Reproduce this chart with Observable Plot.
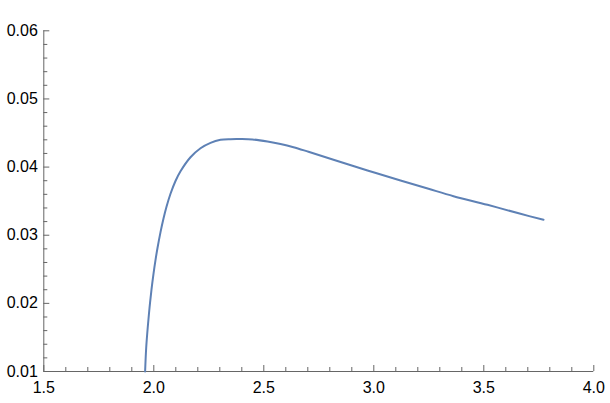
<!DOCTYPE html>
<html>
<head>
<meta charset="utf-8">
<script src="https://cdn.jsdelivr.net/npm/d3@7"></script>
<script src="https://cdn.jsdelivr.net/npm/@observablehq/plot@0.6"></script>
<style>
  html, body { margin: 0; padding: 0; background: #fff; }
  #chart { width: 610px; height: 403px; }
</style>
</head>
<body>
<div id="chart"></div>
<script>
// Curve samples
const xs = [1.9605, 1.9655, 1.9727, 1.9805, 1.9895, 1.9986, 2.0077, 2.0168, 2.0305, 2.0441, 2.0577, 2.0759, 2.0986, 2.1214, 2.1668, 2.2123, 2.2577, 2.3032, 2.3486, 2.3941, 2.4486, 2.5168, 2.5759, 2.6350, 2.7032, 2.8168, 2.9714, 3.1214, 3.2486, 3.3623, 3.5168, 3.6668, 3.7714];
const ys = [0.0100, 0.01352, 0.01657, 0.01932, 0.02202, 0.02434, 0.02635, 0.02812, 0.03046, 0.03245, 0.03417, 0.03608, 0.03796, 0.03938, 0.04144, 0.04276, 0.04356, 0.04400, 0.04410, 0.04411, 0.04405, 0.04375, 0.04339, 0.04292, 0.04224, 0.04107, 0.03950, 0.03803, 0.03681, 0.03573, 0.03446, 0.03314, 0.03226];

const xMajor = [1.5, 2.0, 2.5, 3.0, 3.5, 4.0];
const xMinor = [1.6, 1.7, 1.8, 1.9, 2.1, 2.2, 2.3, 2.4, 2.6, 2.7, 2.8, 2.9, 3.1, 3.2, 3.3, 3.4, 3.6, 3.7, 3.8, 3.9];
const yMajor = [0.01, 0.02, 0.03, 0.04, 0.05, 0.06];
const yMinor = [0.012, 0.014, 0.016, 0.018, 0.022, 0.024, 0.026, 0.028, 0.032, 0.034, 0.036, 0.038, 0.042, 0.044, 0.046, 0.048, 0.052, 0.054, 0.056, 0.058];

const data = xs.map((x, i) => ({x, y: ys[i]}));
const axisColor = "#666666";

const chart = Plot.plot({
  width: 610,
  height: 403,
  marginLeft: 43.3,
  marginRight: 16.7,
  marginTop: 30.3,
  marginBottom: 32,
  style: {fontFamily: "'Liberation Sans', Arial, sans-serif", fontSize: "16px", color: "#000", background: "#fff"},
  x: {domain: [1.5, 4.0]},
  y: {domain: [0.01, 0.06]},
  marks: [
    Plot.axisX(xMajor, {tickSize: 0, tickPadding: 10, tickFormat: d3.format(".1f"), label: null, fill: "#000"}),
    Plot.axisY(yMajor, {tickSize: 0, tickPadding: 6, tickFormat: d3.format(".2f"), label: null, fill: "#000"}),
    Plot.ruleY([0.01], {stroke: axisColor, strokeWidth: 1}),
    Plot.ruleX([1.5], {stroke: axisColor, strokeWidth: 1}),
    Plot.ruleX(xMajor, {x: d => d, y1: 0.01, y2: 0.01, insetTop: -6, stroke: axisColor}),
    Plot.ruleX(xMinor, {x: d => d, y1: 0.01, y2: 0.01, insetTop: -4, stroke: axisColor}),
    Plot.ruleY(yMajor, {y: d => d, x1: 1.5, x2: 1.5, insetRight: -6, stroke: axisColor}),
    Plot.ruleY(yMinor, {y: d => d, x1: 1.5, x2: 1.5, insetRight: -4, stroke: axisColor}),
    Plot.line(data, {x: "x", y: "y", stroke: "#5E81B5", strokeWidth: 2, curve: "catmull-rom"})
  ]
});
document.getElementById("chart").appendChild(chart);
</script>
</body>
</html>
